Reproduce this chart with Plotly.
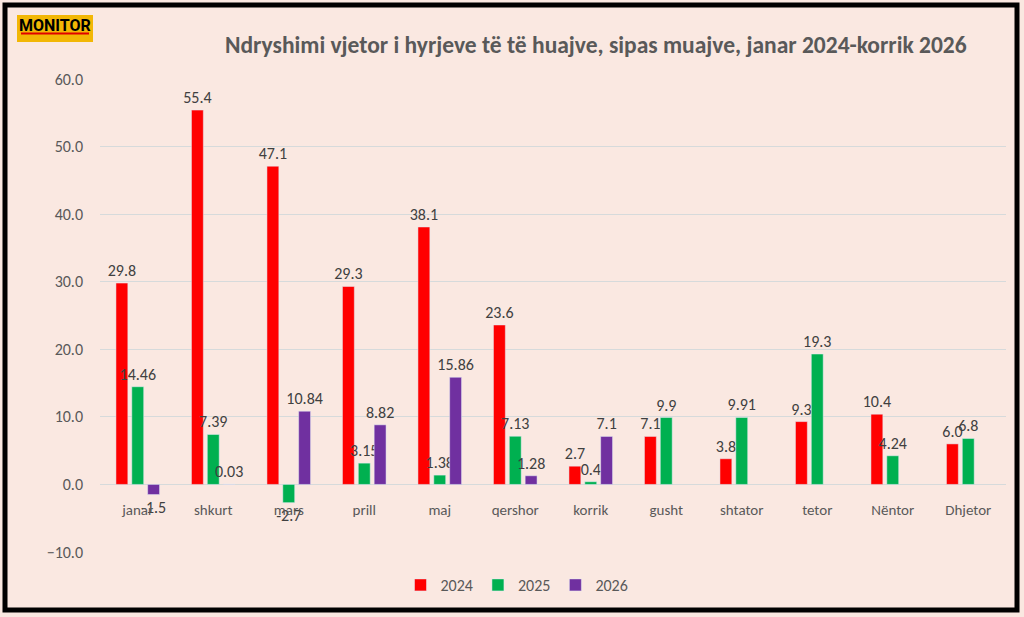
import plotly.graph_objects as go

# data
months = ["janar", "shkurt", "mars", "prill", "maj", "qershor", "korrik",
          "gusht", "shtator", "tetor", "Nëntor", "Dhjetor"]
v2024 = [29.8, 55.4, 47.1, 29.3, 38.1, 23.6, 2.7, 7.1, 3.8, 9.3, 10.4, 6.0]
v2025 = [14.46, 7.39, -2.7, 3.15, 1.38, 7.13, 0.4, 9.9, 9.91, 19.3, 4.24, 6.8]
v2026 = [-1.5, 0.03, 10.84, 8.82, 15.86, 1.28, 7.1, None, None, None, None, None]
series_names = ["2024", "2025", "2026"]
title_text = "Ndryshimi vjetor i hyrjeve të të huajve, sipas muajve, janar 2024-korrik 2026"

colors = ["#ff0000", "#00b050", "#7030a0"]
bg = "#fae8e1"
FONT = "Carlito, Calibri, Lato, 'Open Sans', sans-serif"

W, H = 1024, 617
L, R, T, B = 100, 1006, 79, 552  # plot area in pixels


def px_x(p):
    return (p - L) / (R - L)


def px_y(p):
    return (B - p) / (B - T)


def label(v, fmt):
    if v is None:
        return ""
    return fmt.format(v) if fmt else str(v)


fig = go.Figure()
for name, vals, col, fmt in zip(series_names, [v2024, v2025, v2026], colors,
                                ["{:.1f}", None, None]):
    fig.add_trace(go.Bar(
        x=months, y=vals, name=name, marker_color=col,
        text=[label(v, fmt) for v in vals],
        textposition="outside", constraintext="none", cliponaxis=False,
        textfont=dict(family=FONT, size=16, color="#404040"),
    ))

shapes = [
    # outer frame
    dict(type="rect", xref="paper", yref="paper",
         x0=px_x(5), x1=px_x(1017), y0=px_y(5), y1=px_y(610),
         line=dict(color="black", width=5), layer="above"),
    # logo box
    dict(type="rect", xref="paper", yref="paper",
         x0=px_x(17), x1=px_x(93), y0=px_y(15), y1=px_y(42),
         fillcolor="#f2b705", line=dict(width=0)),
    dict(type="line", xref="paper", yref="paper",
         x0=px_x(21), x1=px_x(89), y0=px_y(33.5), y1=px_y(33.5),
         line=dict(color="#e00000", width=2)),
]

annotations = [
    dict(text="<b>MONITOR</b>", xref="paper", yref="paper", x=px_x(55), y=px_y(25),
         showarrow=False, font=dict(family="Roboto, 'Liberation Sans', Arial", size=16, color="black"),
         xanchor="center", yanchor="middle"),
    dict(text="<b>" + title_text + "</b>", xref="paper", yref="paper",
         x=px_x(596), y=px_y(45), showarrow=False,
         font=dict(family=FONT, size=23.5, color="#595959"),
         xanchor="center", yanchor="middle"),
]

fig.update_layout(
    width=W, height=H,
    margin=dict(l=L, r=W - R, t=T, b=H - B),
    paper_bgcolor=bg, plot_bgcolor=bg,
    barmode="group", bargap=0.37, bargroupgap=0.25,
    font=dict(family=FONT, color="#595959"),
    shapes=shapes, annotations=annotations,
    showlegend=True,
    legend=dict(orientation="h", x=px_x(517), y=px_y(585), xanchor="center",
                yanchor="middle", font=dict(family=FONT, size=16, color="#595959"),
                bgcolor="rgba(0,0,0,0)"),
    xaxis=dict(anchor="free", position=1 / 7, showgrid=False, showline=False,
               zeroline=False, ticks="", ticklabelstandoff=15,
               tickfont=dict(family=FONT, size=15, color="#595959")),
    yaxis=dict(range=[-10, 60], dtick=10, tickformat=".1f", showgrid=True,
               gridcolor="#d6dadb", gridwidth=1, zeroline=False, showline=False,
               ticklabelstandoff=16,
               tickfont=dict(family=FONT, size=16, color="#595959")),
)

fig.write_html("out.html", config={"displayModeBar": False},
               post_script="document.body.style.margin='0';"
                           "document.body.style.overflow='hidden';")
